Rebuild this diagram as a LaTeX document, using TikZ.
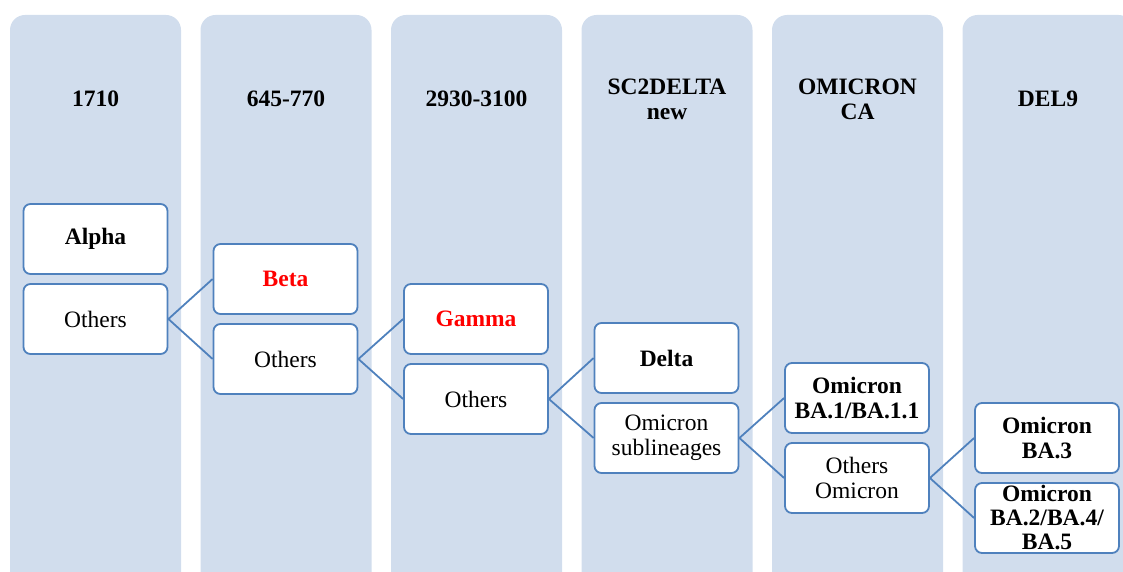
\documentclass[tikz,border=0pt]{standalone}
\usepackage{fontspec}
\setmainfont{Liberation Serif}
\definecolor{colfill}{RGB}{209,221,237}
\definecolor{edgeblue}{RGB}{79,129,189}
\definecolor{redtxt}{RGB}{255,0,0}
\tikzset{
  column/.style={fill=colfill, draw=none, rounded corners=15pt},
  header/.style={font=\fontsize{23.5}{25}\selectfont\bfseries, align=center, inner sep=0pt},
  box/.style={draw=edgeblue, line width=1.8pt, fill=white, rounded corners=7pt,
    minimum width=144pt, minimum height=70pt, inner sep=0pt, align=center,
    font=\fontsize{23.5}{25}\selectfont},
  boldbox/.style={box, font=\fontsize{23.5}{25}\selectfont\bfseries},
  link/.style={draw=edgeblue, line width=1.8pt}
}
\begin{document}
\begin{tikzpicture}[x=1pt,y=-1pt]
\useasboundingbox (0,0) rectangle (1123,572);
\clip (0,0) rectangle (1123,572);
% columns
\foreach \cx in {10,200.5,391,581.5,772,962.5}{
  \path[column] (\cx,15) rectangle ++(171,575);
}
% headers
\node[header] (h1) at (95.5,99) {1710};
\node[header] (h2) at (286,99) {645-770};
\node[header] (h3) at (476.5,99) {2930-3100};
\node[header] (h4) at (667,99) {SC2DELTA\\new};
\node[header] (h5) at (857.5,99) {OMICRON\\CA};
\node[header] (h6) at (1048,99) {DEL9};
% boxes
\node[boldbox] (alpha) at (95.5,239) {Alpha};
\node[box] (oth1) at (95.5,319) {Others};
\node[boldbox, text=redtxt] (beta) at (285.5,279) {Beta};
\node[box] (oth2) at (285.5,359) {Others};
\node[boldbox, text=redtxt] (gamma) at (476,319) {Gamma};
\node[box] (oth3) at (476,399) {Others};
\node[boldbox] (delta) at (666.5,358) {Delta};
\node[box] (omsub) at (666.5,438) {Omicron\\sublineages};
\node[boldbox] (ba1) at (857,398) {Omicron\\BA.1/BA.1.1};
\node[box] (othom) at (857,478) {Others\\Omicron};
\node[boldbox] (ba3) at (1047,438) {Omicron\\BA.3};
\node[boldbox, font=\fontsize{23.5}{24}\selectfont\bfseries] (ba245) at (1047,518) {Omicron\\BA.2/BA.4/\\BA.5};
% connectors
\draw[link] (oth1.east) -- (beta.west);
\draw[link] (oth1.east) -- (oth2.west);
\draw[link] (oth2.east) -- (gamma.west);
\draw[link] (oth2.east) -- (oth3.west);
\draw[link] (oth3.east) -- (delta.west);
\draw[link] (oth3.east) -- (omsub.west);
\draw[link] (omsub.east) -- (ba1.west);
\draw[link] (omsub.east) -- (othom.west);
\draw[link] (othom.east) -- (ba3.west);
\draw[link] (othom.east) -- (ba245.west);
\end{tikzpicture}
\end{document}
